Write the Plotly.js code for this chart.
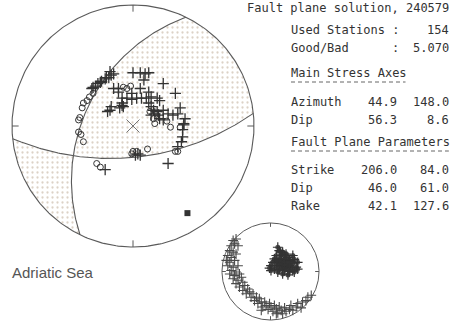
<!DOCTYPE html>
<html><head><meta charset="utf-8">
<script src="https://cdn.plot.ly/plotly-3.0.1.min.js"></script>
<style>html,body{margin:0;padding:0;background:#fff}</style>
</head><body>
<div id="chart" style="width:451px;height:322px"></div>
<script>
// ---------- data ----------
const panelTitle = 'Fault plane solution, 240579';
const usedStations = 154;
const goodBad = '5.070';
const stressLabels = ['Azimuth', 'Dip'];
const stressP = [44.9, 56.3];
const stressT = [148.0, 8.6];
const faultLabels = ['Strike', 'Dip', 'Rake'];
const plane1 = [206.0, 46.0, 42.1];
const plane2 = [84.0, 61.0, 127.6];
const regionLabel = 'Adriatic Sea';

// stations on the main net (unit-radius stereonet coordinates, x east, y north)
const crossX = [-0.34,-0.31,-0.29,-0.26,-0.23,-0.20,-0.18,-0.16,-0.33,-0.27,-0.22,-0.19,
  0.00,0.06,0.10,0.13,0.09,0.25,-0.16,-0.12,0.06,-0.01,0.13,0.35,
  -0.09,-0.05,-0.01,0.03,0.07,0.11,0.15,0.20,0.22,
  -0.18,-0.19,-0.09,-0.11,-0.08,-0.21,
  0.13,0.15,0.17,0.18,0.21,0.22,0.25,0.15,0.20,
  0.29,0.33,0.37,0.43,0.42,0.42,0.39,0.25,
  0.41,0.41,0.40,0.37,0.04,0.06,0.02,-0.23,0.29,-0.12,-0.09];
const crossY = [0.31,0.33,0.35,0.37,0.39,0.40,0.42,0.43,0.32,0.36,0.40,0.45,
  0.44,0.44,0.43,0.44,0.38,0.35,0.31,0.31,0.31,0.27,0.28,0.27,
  0.23,0.23,0.22,0.23,0.23,0.23,0.24,0.23,0.21,
  0.16,0.13,0.17,0.15,0.16,0.12,
  0.19,0.16,0.13,0.10,0.09,0.06,0.05,0.09,0.12,
  0.10,0.09,0.10,0.06,0.02,0.01,0.15,0.13,
  -0.03,-0.09,-0.13,-0.17,-0.23,-0.24,-0.24,-0.36,-0.31,0.28,0.19];
const circX = [-0.08,-0.02,-0.05,0.14,0.17,0.18,0.28,0.31,0.39,
  -0.42,-0.41,-0.38,-0.36,-0.33,-0.44,-0.45,-0.45,-0.43,-0.41,
  0.37,0.35,0.00,0.03,0.12,-0.01,-0.30,-0.27];
const circY = [0.32,0.33,0.31,0.12,0.06,0.02,0.04,-0.01,-0.01,
  0.15,0.19,0.21,0.24,0.27,0.07,0.05,-0.05,-0.07,-0.13,
  -0.21,-0.21,-0.21,-0.21,-0.19,-0.23,-0.31,-0.34];
const squareX = [0.45];
const squareY = [-0.72];

// inset net (unit radius)
const bandX = [-0.77,-0.71,-0.74,-0.81,-0.67,-0.84,-0.77,-0.88,-0.71,-0.81,-0.91,-0.84,-0.74,
  -0.88,-0.77,-0.67,-0.81,-0.71,-0.84,-0.74,-0.64,-0.77,-0.67,-0.60,-0.71,-0.57,-0.64,-0.53,
  -0.47,-0.57,-0.43,-0.50,-0.36,-0.40,-0.29,-0.33,-0.23,-0.19,-0.26,-0.12,-0.09,-0.16,-0.02,
  0.01,-0.05,0.08,0.12,0.05,0.18,0.22,0.15,0.29,0.32,0.25,0.39,0.42,0.46,0.53,0.56,0.63,
  0.66,0.73,0.77,0.84,-0.19,0.12];
const bandY = [0.64,0.67,0.57,0.53,0.53,0.43,0.40,0.33,0.36,0.29,0.23,0.19,0.23,
  0.12,0.09,0.12,0.02,-0.01,-0.05,-0.08,-0.05,-0.15,-0.18,-0.12,-0.25,-0.22,-0.32,-0.29,
  -0.36,-0.39,-0.42,-0.46,-0.46,-0.53,-0.53,-0.60,-0.56,-0.63,-0.66,-0.63,-0.70,-0.73,-0.66,
  -0.73,-0.78,-0.70,-0.77,-0.82,-0.73,-0.80,-0.85,-0.75,-0.82,-0.87,-0.78,-0.70,-0.80,-0.73,-0.66,-0.75,
  -0.63,-0.60,-0.53,-0.49,-0.80,-0.87];
const clusterX = [0.15,0.18,0.25,0.32,0.12,0.22,0.36,0.46,0.08,0.18,0.29,0.39,0.49,0.05,0.15,0.25,
  0.36,0.46,0.56,0.01,0.12,0.22,0.32,0.42,0.53,0.08,0.18,0.29,0.39,0.49,-0.02,0.25,0.36,0.15,
  0.29,0.22,0.32,0.39,0.18,0.29,0.12,0.42,0.25,0.36,0.56,0.01,0.46,0.21];
const clusterY = [0.50,0.43,0.40,0.36,0.33,0.33,0.29,0.33,0.26,0.26,0.25,0.23,0.25,0.19,0.19,0.18,
  0.16,0.16,0.19,0.12,0.12,0.11,0.09,0.09,0.09,0.05,0.04,0.02,0.00,-0.01,0.07,-0.05,-0.07,-0.01,
  0.33,0.21,0.21,0.12,0.16,0.14,0.23,0.21,0.07,0.05,0.05,0.02,0.02,0.40];

// ---------- geometry helpers ----------
const rad = Math.PI / 180;
function proj(trend, plunge) {           // Wulff (equal-angle), lower hemisphere
  const r = Math.tan((90 - plunge) / 2 * rad);
  return [r * Math.sin(trend * rad), r * Math.cos(trend * rad)];
}
function toTP(v) {
  let [e, n, d] = v;
  if (d < 0) { e = -e; n = -n; d = -d; }
  return [Math.atan2(e, n) / rad, Math.asin(Math.min(1, d)) / rad];
}
function planeVecs(s, d) {
  const S = [Math.sin(s * rad), Math.cos(s * rad), 0];
  const dd = (s + 90) * rad;
  const D = [Math.cos(d * rad) * Math.sin(dd), Math.cos(d * rad) * Math.cos(dd), Math.sin(d * rad)];
  return {S, D};
}
const dot = (a, b) => a[0]*b[0] + a[1]*b[1] + a[2]*b[2];
const cross = (a, b) => [a[1]*b[2]-a[2]*b[1], a[2]*b[0]-a[0]*b[2], a[0]*b[1]-a[1]*b[0]];
function arcPlane(pv, t0, t1, n) {
  const xs = [], ys = [];
  for (let i = 0; i <= n; i++) {
    const t = t0 + (t1 - t0) * i / n;
    const v = [0,1,2].map(k => Math.cos(t) * pv.S[k] + Math.sin(t) * pv.D[k]);
    const tp = toTP(v);
    const p = proj(tp[0], tp[1]);
    xs.push(p[0]); ys.push(p[1]);
  }
  return [xs, ys];
}
function arcRim(a0, a1, n, r) {
  const xs = [], ys = [];
  for (let i = 0; i <= n; i++) {
    const a = (a0 + (a1 - a0) * i / n) * rad;
    xs.push(r * Math.sin(a)); ys.push(r * Math.cos(a));
  }
  return [xs, ys];
}

const p1 = planeVecs(plane1[0], plane1[1]);
const p2 = planeVecs(plane2[0], plane2[1]);
let b = cross(cross(p1.S, p1.D), cross(p2.S, p2.D));
const bl = Math.hypot(b[0], b[1], b[2]);
b = b.map(c => c / bl);
if (b[2] < 0) b = b.map(c => -c);
const tb1 = Math.atan2(dot(b, p1.D), dot(b, p1.S));
const tb2 = Math.atan2(dot(b, p2.D), dot(b, p2.S));

// region containing the centre
const a1 = arcPlane(p1, Math.PI, tb1, 80);
const a2 = arcPlane(p2, tb2, 0, 80);
const a3 = arcRim(plane2[0], plane1[0] - 180, 60, 1);
const regAx = a1[0].concat(a2[0], a3[0]), regAy = a1[1].concat(a2[1], a3[1]);
// lower-left region
const c1 = arcPlane(p2, Math.PI, tb2, 60);
const c2 = arcPlane(p1, tb1, 0, 60);
const c3 = arcRim(plane1[0], plane2[0] + 180, 40, 1);
const regBx = c1[0].concat(c2[0], c3[0]), regBy = c1[1].concat(c2[1], c3[1]);

const pl1 = arcPlane(p1, 0, Math.PI, 160);
const pl2 = arcPlane(p2, 0, Math.PI, 160);
const rim = arcRim(0, 360, 360, 1);

function ticks(len) {
  const xs = [], ys = [];
  [0, 90, 180, 270].forEach(a => {
    xs.push(Math.sin(a*rad), (1-len)*Math.sin(a*rad), null);
    ys.push(Math.cos(a*rad), (1-len)*Math.cos(a*rad), null);
  });
  return [xs, ys];
}
const tk = ticks(0.055);
const tk2 = ticks(0.08);

const lineCol = '#5a5a5a';
const markCol = '#333';
const pat = {shape: '.', fgcolor: '#dcd2c6', bgcolor: 'rgba(255,255,255,0)', size: 5, solidity: 0.16};

const traces = [
  {x: regAx, y: regAy, mode: 'lines', fill: 'toself', fillcolor: 'rgba(255,255,255,0)', fillpattern: pat, line: {width: 0}, hoverinfo: 'skip'},
  {x: regBx, y: regBy, mode: 'lines', fill: 'toself', fillcolor: 'rgba(255,255,255,0)', fillpattern: pat, line: {width: 0}, hoverinfo: 'skip'},
  {x: rim[0], y: rim[1], mode: 'lines', line: {color: lineCol, width: 1.1}},
  {x: pl1[0], y: pl1[1], mode: 'lines', line: {color: lineCol, width: 1.1}},
  {x: pl2[0], y: pl2[1], mode: 'lines', line: {color: lineCol, width: 1.1}},
  {x: tk[0], y: tk[1], mode: 'lines', line: {color: lineCol, width: 1}},
  {x: [0], y: [0], mode: 'markers', marker: {symbol: 'x-thin', size: 13, color: '#777', line: {color: '#777', width: 1}}},
  {x: circX, y: circY, mode: 'markers', marker: {symbol: 'circle-open', size: 6, color: markCol, line: {color: markCol, width: 1}}},
  {x: crossX, y: crossY, mode: 'markers', marker: {symbol: 'cross-thin', size: 8, color: markCol, line: {color: markCol, width: 1.3}}},
  {x: squareX, y: squareY, mode: 'markers', marker: {symbol: 'square', size: 6, color: '#333'}},
  // inset
  {x: rim[0], y: rim[1], xaxis: 'x2', yaxis: 'y2', mode: 'lines', line: {color: lineCol, width: 1}},
  {x: tk2[0], y: tk2[1], xaxis: 'x2', yaxis: 'y2', mode: 'lines', line: {color: lineCol, width: 1}},
  {x: bandX, y: bandY, xaxis: 'x2', yaxis: 'y2', mode: 'markers', marker: {symbol: 'cross-thin', size: 7, color: '#4a4a4a', line: {color: '#4a4a4a', width: 1.1}}},
  {x: clusterX, y: clusterY, xaxis: 'x2', yaxis: 'y2', mode: 'markers', marker: {symbol: 'circle', size: 5, color: '#3a3a3a', opacity: 0.85}},
  {x: clusterX, y: clusterY, xaxis: 'x2', yaxis: 'y2', mode: 'markers', marker: {symbol: 'cross-thin', size: 7, color: '#333', line: {color: '#333', width: 1.2}}}
];

// ---------- text panel ----------
const W = 451, H = 322;
const mono = {family: 'DejaVu Sans Mono, Liberation Mono, monospace', size: 12, color: '#333'};
const ann = [];
function txt(t, px, py, anchor, font) {
  ann.push({text: t, x: px / W, y: 1 - py / H, xref: 'paper', yref: 'paper', xanchor: anchor || 'left', yanchor: 'middle', showarrow: false, font: font || mono, borderpad: 0});
}
const L = 290, C1 = 398, C2 = 450;
txt(panelTitle, C2, 8, 'right');
txt('Used Stations :', L, 30);
txt(String(usedStations), C2, 30, 'right');
txt('Good/Bad', L, 48);
txt(':', L + 14 * 7.22, 48);
txt(goodBad, C2, 48, 'right');
txt('Main Stress Axes', L, 73);
stressLabels.forEach((l, i) => {
  const y = 102 + i * 18;
  txt(l, L, y); txt(stressP[i].toFixed(1), C1, y, 'right'); txt(stressT[i].toFixed(1), C2, y, 'right');
});
txt('Fault Plane Parameters', L, 142);
faultLabels.forEach((l, i) => {
  const y = 170 + i * 18;
  txt(l, L, y); txt(plane1[i].toFixed(1), C1, y, 'right'); txt(plane2[i].toFixed(1), C2, y, 'right');
});
txt(regionLabel, 11, 272, 'left', {family: 'Liberation Sans, Arial, sans-serif', size: 15, color: '#555'});

// separator rules under the two headings
const sep = (x0, x1, py) => ({type: 'line', xref: 'paper', yref: 'paper', x0: x0 / W, x1: x1 / W,
  y0: 1 - py / H, y1: 1 - py / H, line: {color: '#666', width: 1, dash: '4px,3px'}});
const shapes = [sep(L + 1, L + 16 * 7.22, 82), sep(L + 1, L + 22 * 7.22, 151)];

// main net: centre at pixel (133,126), radius 121 px ; inset centre (270.5,271.5), radius 48.5 px
const ax = {visible: false, fixedrange: true, showgrid: false, zeroline: false};
const layout = {
  width: W, height: H, margin: {l: 0, r: 0, t: 0, b: 0},
  paper_bgcolor: '#fff', plot_bgcolor: 'rgba(0,0,0,0)', showlegend: false,
  xaxis: Object.assign({domain: [0, 1], range: [-133/121, 318/121]}, ax),
  yaxis: Object.assign({domain: [0, 1], range: [-196/121, 126/121]}, ax),
  xaxis2: Object.assign({domain: [221/W, 320/W], range: [-1.02, 1.02], anchor: 'y2'}, ax),
  yaxis2: Object.assign({domain: [1/H, 100/H], range: [-1.02, 1.02], anchor: 'x2'}, ax),
  annotations: ann, shapes: shapes
};
Plotly.newPlot('chart', traces, layout, {displayModeBar: false, staticPlot: true});
</script>
</body></html>
